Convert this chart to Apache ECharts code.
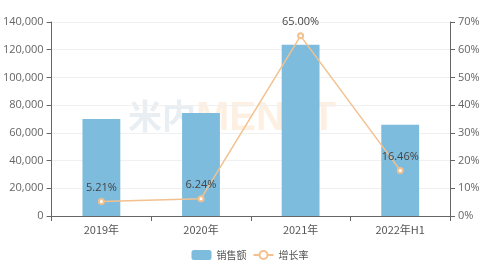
<!DOCTYPE html>
<html><head><meta charset="utf-8">
<script src="https://cdn.jsdelivr.net/npm/echarts@6/dist/echarts.min.js"></script>
<style>html,body{margin:0;padding:0;background:#fff}#c{width:500px;height:270px}</style>
</head><body><div id="c"></div>
<script>
var categories = ['2019年', '2020年', '2021年', '2022年H1'];
var sales = [70000, 74300, 123500, 65800];
var growth = [5.21, 6.24, 65.00, 16.46];
var leftTicks = {min: 0, max: 140000, interval: 20000};
var rightTicks = {min: 0, max: 70, interval: 10};

var chart = echarts.init(document.getElementById('c'));
var axLine = {show: true, lineStyle: {color: '#666'}};
var axTick = {show: true, lineStyle: {color: '#666'}};
chart.setOption({
  animation: false,
  textStyle: {fontFamily: 'Open Sans'},
  graphic: [
    {type: 'text', left: 128, top: 99, silent: true, z: -1,
      style: {text: '米内', fontSize: 34, fontWeight: 'bold', fill: 'rgba(190,205,218,0.35)', fontFamily: 'Noto Sans CJK SC'}},
    {type: 'text', left: 196, top: 99, silent: true, z: -1,
      style: {text: 'MENET', fontSize: 40, fontWeight: 'bold', fill: 'rgba(250,205,160,0.3)', fontFamily: 'Liberation Sans'}}
  ],
  grid: {left: 51, right: 50, top: 22, bottom: 54},
  legend: {
    top: 245, left: 'center', itemGap: 6, itemWidth: 20, itemHeight: 10,
    textStyle: {color: '#555', fontSize: 10, fontFamily: 'Noto Sans CJK SC'},
    data: ['销售额', '增长率']
  },
  xAxis: {
    type: 'category', data: categories,
    axisLine: axLine, axisTick: axTick,
    axisLabel: {color: '#555', fontSize: 11, fontFamily: 'Noto Sans CJK SC', margin: 8}
  },
  yAxis: [
    {type: 'value', min: leftTicks.min, max: leftTicks.max, interval: leftTicks.interval,
      axisLine: axLine, axisTick: axTick,
      splitLine: {lineStyle: {color: '#f0f0f0'}},
      axisLabel: {color: '#666', fontSize: 11, formatter: function(v){return v.toLocaleString('en-US');}}},
    {type: 'value', min: rightTicks.min, max: rightTicks.max, interval: rightTicks.interval,
      axisLine: axLine, axisTick: axTick,
      splitLine: {show: false},
      axisLabel: {color: '#666', fontSize: 11, formatter: '{value}%'}}
  ],
  series: [
    {name: '销售额', type: 'bar', data: sales, barWidth: '38%', itemStyle: {color: '#7dbcdc'}},
    {name: '增长率', type: 'line', yAxisIndex: 1, data: growth,
      symbol: 'emptyCircle', symbolSize: 5,
      lineStyle: {color: '#f3c08f', width: 1.5},
      itemStyle: {color: '#f3c08f', borderColor: '#f3c08f'},
      label: {show: true, position: 'top', color: '#444', fontSize: 11,
        formatter: function(p){return p.value.toFixed(2) + '%';}}
    }
  ]
});
</script></body></html>
